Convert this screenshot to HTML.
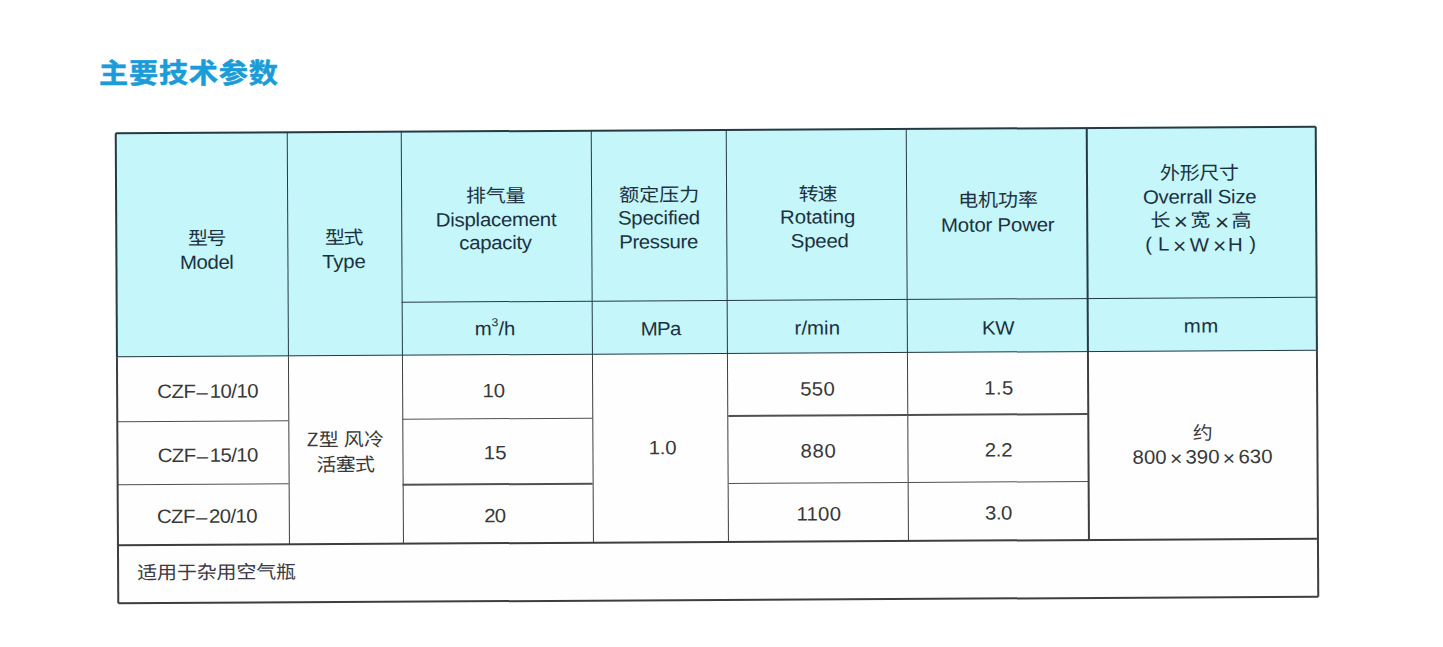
<!DOCTYPE html>
<html lang="zh-CN"><head><meta charset="utf-8"><title>主要技术参数</title>
<style>
html,body{margin:0;padding:0;}
body{width:1443px;height:647px;overflow:hidden;background:#ffffff;position:relative;}
.title{position:absolute;margin:0;font-family:"Noto Sans CJK SC","Liberation Sans",sans-serif;font-weight:700;font-size:30px;line-height:40px;color:#1b9cd8;-webkit-text-stroke:0.5px #1b9cd8;white-space:nowrap;letter-spacing:0px;}
.tbl{position:absolute;left:117.3px;top:130.2px;width:1199.6px;height:469.8px;transform:rotate(-0.31deg);transform-origin:50% 50%;background:#fefefe;}
.hdr{position:absolute;left:0;top:0;width:1199.6px;height:223.7px;background:#c4f6fa;}
.ln{position:absolute;}
.t{position:absolute;width:300px;text-align:center;white-space:nowrap;line-height:1.2;}
.t span{display:inline-block;}
.f-l{font-family:"Liberation Sans", "Noto Sans CJK SC", sans-serif;}
.f-c{font-family:"Noto Sans CJK SC", "Liberation Sans", sans-serif;font-weight:400;}

.dh{position:relative;top:1px;margin:0 2.2px 0 1.2px;}
.mx{font-size:104%;position:relative;top:2.4px;}
sup{font-size:60%;vertical-align:0;position:relative;top:-0.86em;line-height:0;}
</style></head><body>
<h1 class="title" style="left:98.80px;top:51.55px;font-size:27px;letter-spacing:0.72px;font-weight:700"><span style="display:inline-block;transform:scaleX(1.08);transform-origin:0 0">主要技术参数</span></h1>
<div class="tbl">
<div class="hdr"></div>
<div class="t f-c" id="h_xinghao" style="left:-59.91px;top:92.59px;font-size:18.5px;letter-spacing:-1.40px;color:#1c3140"><span style="transform:scaleX(1.08)">型号</span></div>
<div class="t f-l" id="h_model" style="left:-59.97px;top:117.89px;font-size:19.3px;letter-spacing:-0.42px;color:#1c3140"><span style="transform:scaleX(1.06)">Model</span></div>
<div class="t f-c" id="h_xingshi" style="left:76.72px;top:92.81px;font-size:18.5px;letter-spacing:-1.40px;color:#1c3140"><span style="transform:scaleX(1.08)">型式</span></div>
<div class="t f-l" id="h_type" style="left:77.78px;top:117.63px;font-size:19.3px;letter-spacing:-0.22px;color:#1c3140"><span style="transform:scaleX(1.06)">Type</span></div>
<div class="t f-c" id="h_paiqi" style="left:229.23px;top:51.83px;font-size:18.5px;letter-spacing:-0.20px;color:#1c3140"><span style="transform:scaleX(1.08)">排气量</span></div>
<div class="t f-l" id="h_disp" style="left:229.63px;top:76.76px;font-size:19.3px;letter-spacing:-0.26px;color:#1c3140"><span style="transform:scaleX(1.06)">Displacement</span></div>
<div class="t f-l" id="h_cap" style="left:228.81px;top:99.75px;font-size:19.3px;letter-spacing:-0.31px;color:#1c3140"><span style="transform:scaleX(1.06)">capacity</span></div>
<div class="t f-c" id="h_eding" style="left:392.73px;top:51.82px;font-size:18.5px;letter-spacing:0.07px;color:#1c3140"><span style="transform:scaleX(1.08)">额定压力</span></div>
<div class="t f-l" id="h_spec" style="left:392.47px;top:76.33px;font-size:19.3px;letter-spacing:-0.22px;color:#1c3140"><span style="transform:scaleX(1.06)">Specified</span></div>
<div class="t f-l" id="h_press" style="left:392.37px;top:100.04px;font-size:19.3px;letter-spacing:-0.36px;color:#1c3140"><span style="transform:scaleX(1.06)">Pressure</span></div>
<div class="t f-c" id="h_zhuan" style="left:551.13px;top:51.54px;font-size:18.5px;letter-spacing:-1.00px;color:#1c3140"><span style="transform:scaleX(1.08)">转速</span></div>
<div class="t f-l" id="h_rot" style="left:551.48px;top:76.39px;font-size:19.3px;letter-spacing:-0.13px;color:#1c3140"><span style="transform:scaleX(1.06)">Rotating</span></div>
<div class="t f-l" id="h_speed" style="left:553.53px;top:100.11px;font-size:19.3px;letter-spacing:-0.22px;color:#1c3140"><span style="transform:scaleX(1.06)">Speed</span></div>
<div class="t f-c" id="h_dianji" style="left:731.70px;top:59.24px;font-size:18.5px;letter-spacing:-0.07px;color:#1c3140"><span style="transform:scaleX(1.08)">电机功率</span></div>
<div class="t f-l" id="h_motor" style="left:731.77px;top:85.46px;font-size:19.3px;letter-spacing:-0.22px;color:#1c3140"><span style="transform:scaleX(1.06)">Motor Power</span></div>
<div class="t f-c" id="h_waixing" style="left:933.62px;top:33.41px;font-size:18.5px;letter-spacing:-0.33px;color:#1c3140"><span style="transform:scaleX(1.08)">外形尺寸</span></div>
<div class="t f-l" id="h_overall" style="left:933.90px;top:57.57px;font-size:19.3px;letter-spacing:-0.25px;color:#1c3140"><span style="transform:scaleX(1.06)">Overrall Size</span></div>
<div class="t f-c" id="lw_c1" style="left:894.58px;top:80.28px;font-size:18.5px;letter-spacing:0.00px;color:#1c3140"><span style="transform:scaleX(1.08)">长</span></div>
<div class="t f-l" id="lw_x1" style="left:914.78px;top:81.36px;font-size:23px;letter-spacing:0.00px;color:#1c3140"><span style="transform:scaleX(1.06)">×</span></div>
<div class="t f-c" id="lw_c2" style="left:934.08px;top:80.38px;font-size:18.5px;letter-spacing:0.00px;color:#1c3140"><span style="transform:scaleX(1.08)">宽</span></div>
<div class="t f-l" id="lw_x2" style="left:955.28px;top:81.92px;font-size:23px;letter-spacing:0.00px;color:#1c3140"><span style="transform:scaleX(1.06)">×</span></div>
<div class="t f-c" id="lw_c3" style="left:975.33px;top:81.05px;font-size:18.5px;letter-spacing:0.00px;color:#1c3140"><span style="transform:scaleX(1.08)">高</span></div>
<div class="t f-l" id="lh_p1" style="left:882.65px;top:105.04px;font-size:19.3px;letter-spacing:0.00px;color:#1c3140"><span style="transform:scaleX(1.06)">(</span></div>
<div class="t f-l" id="lh_L" style="left:897.60px;top:105.46px;font-size:19.3px;letter-spacing:0.00px;color:#1c3140"><span style="transform:scaleX(1.06)">L</span></div>
<div class="t f-l" id="lh_x1" style="left:913.70px;top:106.99px;font-size:21.5px;letter-spacing:0.00px;color:#1c3140"><span style="transform:scaleX(1.06)">×</span></div>
<div class="t f-l" id="lh_W" style="left:933.10px;top:105.66px;font-size:19.3px;letter-spacing:0.00px;color:#1c3140"><span style="transform:scaleX(1.06)">W</span></div>
<div class="t f-l" id="lh_x2" style="left:953.20px;top:107.39px;font-size:21.5px;letter-spacing:0.00px;color:#1c3140"><span style="transform:scaleX(1.06)">×</span></div>
<div class="t f-l" id="lh_H" style="left:969.35px;top:105.85px;font-size:19.3px;letter-spacing:0.00px;color:#1c3140"><span style="transform:scaleX(1.06)">H</span></div>
<div class="t f-l" id="lh_p2" style="left:986.15px;top:105.41px;font-size:19.3px;letter-spacing:0.00px;color:#1c3140"><span style="transform:scaleX(1.06)">)</span></div>
<div class="t f-l" id="u_m3h" style="left:228.08px;top:186.46px;font-size:19.3px;letter-spacing:-0.06px;color:#1c3140"><span style="transform:scaleX(1.06)">m<sup>3</sup>/h</span></div>
<div class="t f-l" id="u_mpa" style="left:393.70px;top:187.35px;font-size:19.3px;letter-spacing:-0.62px;color:#1c3140"><span style="transform:scaleX(1.06)">MPa</span></div>
<div class="t f-l" id="u_rmin" style="left:550.82px;top:187.09px;font-size:19.3px;letter-spacing:0.02px;color:#1c3140"><span style="transform:scaleX(1.06)">r/min</span></div>
<div class="t f-l" id="u_kw" style="left:730.92px;top:188.08px;font-size:19.3px;letter-spacing:-0.38px;color:#1c3140"><span style="transform:scaleX(1.06)">KW</span></div>
<div class="t f-l" id="u_mm" style="left:934.22px;top:187.27px;font-size:19.3px;letter-spacing:0.26px;color:#1c3140"><span style="transform:scaleX(1.06)">mm</span></div>
<div class="t f-l" id="b_m1" style="left:-59.75px;top:247.29px;font-size:19.3px;letter-spacing:-0.54px;color:#383838"><span style="transform:scaleX(1.06)">CZF<span class="dh">–</span>10/10</span></div>
<div class="t f-l" id="b_m2" style="left:-59.36px;top:311.10px;font-size:19.3px;letter-spacing:-0.60px;color:#383838"><span style="transform:scaleX(1.06)">CZF<span class="dh">–</span>15/10</span></div>
<div class="t f-l" id="b_m3" style="left:-60.50px;top:372.09px;font-size:19.3px;letter-spacing:-0.62px;color:#383838"><span style="transform:scaleX(1.06)">CZF<span class="dh">–</span>20/10</span></div>
<div class="t f-c" id="b_type1" style="left:77.62px;top:295.02px;font-size:18.5px;letter-spacing:0.20px;color:#383838"><span style="transform:scaleX(1.08)">Z型 风冷</span></div>
<div class="t f-c" id="b_type2" style="left:77.51px;top:319.60px;font-size:18.5px;letter-spacing:-0.60px;color:#383838"><span style="transform:scaleX(1.08)">活塞式</span></div>
<div class="t f-l" id="b_d1" style="left:227.13px;top:248.04px;font-size:19.3px;letter-spacing:-0.06px;color:#383838"><span style="transform:scaleX(1.06)">10</span></div>
<div class="t f-l" id="b_d2" style="left:227.46px;top:310.15px;font-size:19.3px;letter-spacing:0.10px;color:#383838"><span style="transform:scaleX(1.06)">15</span></div>
<div class="t f-l" id="b_d3" style="left:226.78px;top:372.75px;font-size:19.3px;letter-spacing:-0.70px;color:#383838"><span style="transform:scaleX(1.06)">20</span></div>
<div class="t f-l" id="b_p" style="left:394.63px;top:305.66px;font-size:19.3px;letter-spacing:-0.22px;color:#383838"><span style="transform:scaleX(1.06)">1.0</span></div>
<div class="t f-l" id="b_s1" style="left:550.79px;top:247.98px;font-size:19.3px;letter-spacing:0.26px;color:#383838"><span style="transform:scaleX(1.06)">550</span></div>
<div class="t f-l" id="b_s2" style="left:551.43px;top:310.20px;font-size:19.3px;letter-spacing:0.58px;color:#383838"><span style="transform:scaleX(1.06)">880</span></div>
<div class="t f-l" id="b_s3" style="left:550.98px;top:372.99px;font-size:19.3px;letter-spacing:0.15px;color:#383838"><span style="transform:scaleX(1.06)">1100</span></div>
<div class="t f-l" id="b_w1" style="left:731.39px;top:248.19px;font-size:19.3px;letter-spacing:0.26px;color:#383838"><span style="transform:scaleX(1.06)">1.5</span></div>
<div class="t f-l" id="b_w2" style="left:730.86px;top:310.18px;font-size:19.3px;letter-spacing:-0.22px;color:#383838"><span style="transform:scaleX(1.06)">2.2</span></div>
<div class="t f-l" id="b_w3" style="left:730.76px;top:373.19px;font-size:19.3px;letter-spacing:-0.54px;color:#383838"><span style="transform:scaleX(1.06)">3.0</span></div>
<div class="t f-c" id="b_yue" style="left:935.26px;top:293.16px;font-size:18.5px;letter-spacing:0.60px;color:#383838"><span style="transform:scaleX(1.08)">约</span></div>
<div class="t f-l" id="b_dim" style="left:934.53px;top:316.87px;font-size:19.3px;letter-spacing:0.00px;word-spacing:-2.34px;color:#383838"><span style="transform:scaleX(1.06)">800 <span class="mx">×</span> 390 <span class="mx">×</span> 630</span></div>
<div class="t f-c" id="note" style="left:-51.84px;top:426.86px;font-size:18.5px;letter-spacing:-0.14px;color:#3a3944"><span style="transform:scaleX(1.08)">适用于杂用空气瓶</span></div>
<div class="ln" style="left:170.50px;top:0.00px;width:1.3px;height:223.70px;background:#263a42"></div>
<div class="ln" style="left:170.50px;top:223.70px;width:1.3px;height:188.20px;background:#3e3e3e"></div>
<div class="ln" style="left:284.70px;top:0.00px;width:1.3px;height:223.70px;background:#263a42"></div>
<div class="ln" style="left:284.70px;top:223.70px;width:1.3px;height:188.20px;background:#3e3e3e"></div>
<div class="ln" style="left:474.50px;top:0.00px;width:1.3px;height:223.70px;background:#263a42"></div>
<div class="ln" style="left:474.50px;top:223.70px;width:1.3px;height:188.20px;background:#3e3e3e"></div>
<div class="ln" style="left:610.00px;top:0.00px;width:1.3px;height:223.70px;background:#263a42"></div>
<div class="ln" style="left:610.00px;top:223.70px;width:1.3px;height:188.20px;background:#3e3e3e"></div>
<div class="ln" style="left:789.80px;top:0.00px;width:1.3px;height:223.70px;background:#263a42"></div>
<div class="ln" style="left:789.80px;top:223.70px;width:1.3px;height:188.20px;background:#3e3e3e"></div>
<div class="ln" style="left:970.30px;top:0.00px;width:1.3px;height:223.70px;background:#263a42"></div>
<div class="ln" style="left:970.30px;top:223.70px;width:1.3px;height:188.20px;background:#3e3e3e"></div>
<div class="ln" style="left:285.35px;top:169.55px;width:914.60px;height:1.3px;background:#263a42"></div>
<div class="ln" style="left:0.00px;top:222.90px;width:1199.95px;height:1.6px;background:#263a42"></div>
<div class="ln" style="left:0.35px;top:287.65px;width:170.80px;height:1.3px;background:#505050"></div>
<div class="ln" style="left:0.35px;top:350.65px;width:170.80px;height:1.3px;background:#505050"></div>
<div class="ln" style="left:285.35px;top:287.05px;width:189.80px;height:1.3px;background:#505050"></div>
<div class="ln" style="left:285.35px;top:352.35px;width:189.80px;height:1.3px;background:#505050"></div>
<div class="ln" style="left:610.65px;top:285.45px;width:179.80px;height:1.3px;background:#505050"></div>
<div class="ln" style="left:610.65px;top:352.55px;width:179.80px;height:1.3px;background:#505050"></div>
<div class="ln" style="left:790.45px;top:285.35px;width:180.50px;height:1.3px;background:#505050"></div>
<div class="ln" style="left:790.45px;top:352.75px;width:180.50px;height:1.3px;background:#505050"></div>
<div class="ln" style="left:0.00px;top:411.20px;width:1199.95px;height:1.4px;background:#3e3e3e"></div>
<div class="ln" style="left:-0.85px;top:0.00px;width:1.7px;height:223.70px;background:#263a42"></div>
<div class="ln" style="left:-0.85px;top:223.70px;width:1.7px;height:246.10px;background:#3e3e3e"></div>
<div class="ln" style="left:1199.10px;top:0.00px;width:1.7px;height:223.70px;background:#263a42"></div>
<div class="ln" style="left:1199.10px;top:223.70px;width:1.7px;height:246.10px;background:#3e3e3e"></div>
<div class="ln" style="left:0.00px;top:-0.85px;width:1199.95px;height:1.7px;background:#263a42"></div>
<div class="ln" style="left:0.00px;top:468.95px;width:1199.95px;height:1.7px;background:#3e3e3e"></div>
</div>
</body></html>
